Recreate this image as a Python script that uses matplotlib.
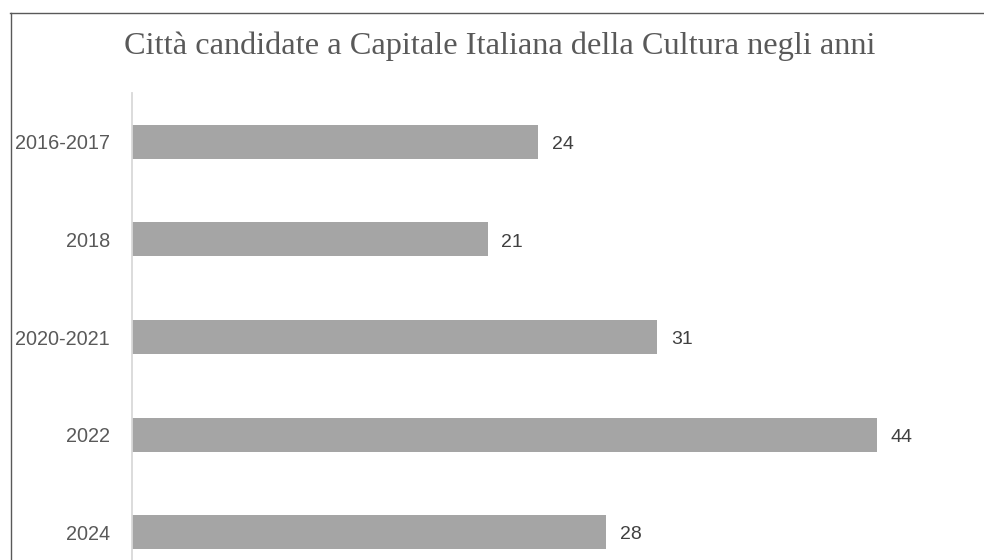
import matplotlib
matplotlib.use("Agg")
import matplotlib.pyplot as plt
from matplotlib.lines import Line2D

categories = ["2016-2017", "2018", "2020-2021", "2022", "2024"]
values = [24, 21, 31, 44, 28]
title = "Città candidate a Capitale Italiana della Cultura negli anni"

W, H = 984, 560
fig = plt.figure(figsize=(W / 100, H / 100), dpi=100)
fig.patch.set_facecolor("white")

# axes: left 132px, top 93px, bottom beyond the image (cropped chart)
left, right, top, bottom = 132, 978.5, 93, 581
ax = fig.add_axes([left / W, 1 - bottom / H, (right - left) / W, (bottom - top) / H])

ypos = list(range(len(categories)))
ax.barh(ypos, values, height=0.35, color="#a5a5a5")
ax.set_ylim(len(categories) - 0.5, -0.5)
ax.set_xlim(0, 50)
ax.set_yticks(ypos)
ax.set_yticklabels(categories, fontsize=14.3, color="#595959", family="Liberation Sans")
ax.tick_params(axis="y", length=0, pad=16)
ax.set_xticks([])
for s in ["top", "right", "bottom"]:
    ax.spines[s].set_visible(False)
ax.spines["left"].set_color("#d9d9d9")
ax.spines["left"].set_linewidth(1.3)

for y, v in zip(ypos, values):
    ax.annotate(str(v), (v, y), xytext=(10, -2), textcoords="offset points",
                va="center", ha="left", fontsize=14, color="#404040",
                family="Liberation Sans")

fig.text(500 / W, 1 - 46 / H, title, ha="center", va="center",
         fontsize=23.3, color="#595959", family="Liberation Serif")

# frame (top and left edges visible)
fig.add_artist(Line2D([10 / W, 1.0], [1 - 12.5 / H, 1 - 12.5 / H], color="#595959", lw=1.0))
fig.add_artist(Line2D([10.5 / W, 10.5 / W], [0, 1 - 12.5 / H], color="#595959", lw=1.0))

fig.savefig("out.png", dpi=100, facecolor="white")
